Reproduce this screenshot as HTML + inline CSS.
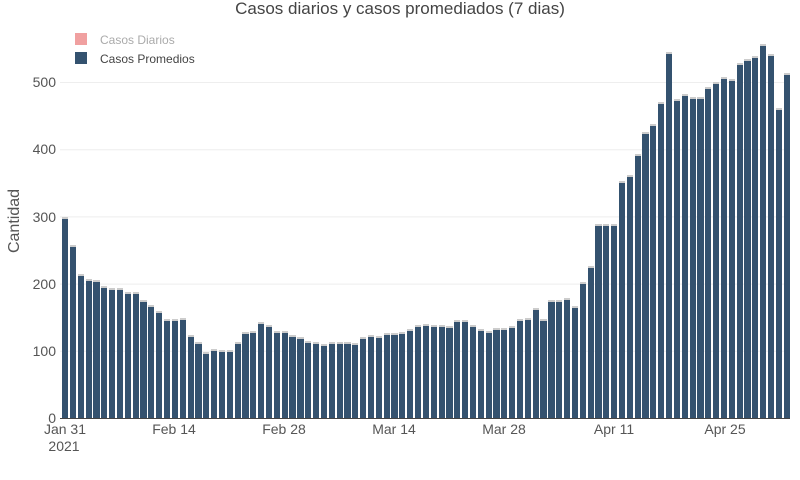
<!DOCTYPE html><html><head><style>body{margin:0;background:#fff}svg{font-family:"Liberation Sans",sans-serif}
#b{position:absolute;left:62px;top:0;height:418px;width:740px;display:flex;align-items:flex-end}
#b i{display:block;width:6.2px;margin-right:1.66px;background:#34526f;border-top:2px solid #ccc;box-sizing:content-box;flex:none}
</style></head><body>
<svg width="800" height="480" xmlns="http://www.w3.org/2000/svg" style="position:absolute;left:0;top:0">
<text x="400" y="14" text-anchor="middle" font-size="17" fill="#444">Casos diarios y casos promediados (7 dias)</text>
<g stroke="#eee" stroke-width="1">
<line x1="60" x2="790" y1="351.3" y2="351.3"/><line x1="60" x2="790" y1="284.1" y2="284.1"/><line x1="60" x2="790" y1="216.9" y2="216.9"/><line x1="60" x2="790" y1="149.7" y2="149.7"/><line x1="60" x2="790" y1="82.5" y2="82.5"/></g>
<g font-size="14" fill="#555" text-anchor="end">
<text x="56" y="423">0</text><text x="56" y="356">100</text><text x="56" y="289">200</text><text x="56" y="222">300</text><text x="56" y="154">400</text><text x="56" y="87">500</text></g>
<text transform="translate(19,221) rotate(-90)" text-anchor="middle" font-size="16" fill="#555">Cantidad</text>
<g font-size="14" fill="#555" text-anchor="middle">
<text x="65" y="434">Jan 31</text><text x="64" y="451">2021</text><text x="174" y="434">Feb 14</text><text x="284" y="434">Feb 28</text><text x="394" y="434">Mar 14</text><text x="504" y="434">Mar 28</text><text x="614" y="434">Apr 11</text><text x="725" y="434">Apr 25</text></g>
<rect x="75" y="33" width="12" height="12" fill="#f0a0a0"/><text x="100" y="44" font-size="12" fill="#aaa">Casos Diarios</text>
<rect x="75" y="52" width="12" height="12" fill="#34526f"/><text x="100" y="63" font-size="12" fill="#444">Casos Promedios</text>
</svg>
<div id="b">
<i style="height:calc(296px*.672)"></i><i style="height:calc(254px*.672)"></i><i style="height:calc(211px*.672)"></i><i style="height:calc(204px*.672)"></i><i style="height:calc(202px*.672)"></i><i style="height:calc(194px*.672)"></i><i style="height:calc(190px*.672)"></i><i style="height:calc(190px*.672)"></i><i style="height:calc(185px*.672)"></i><i style="height:calc(185px*.672)"></i>
<i style="height:calc(173px*.672)"></i><i style="height:calc(165px*.672)"></i><i style="height:calc(157px*.672)"></i><i style="height:calc(145px*.672)"></i><i style="height:calc(145px*.672)"></i><i style="height:calc(146px*.672)"></i><i style="height:calc(120px*.672)"></i><i style="height:calc(110px*.672)"></i><i style="height:calc(95px*.672)"></i><i style="height:calc(99px*.672)"></i>
<i style="height:calc(98px*.672)"></i><i style="height:calc(98px*.672)"></i><i style="height:calc(110px*.672)"></i><i style="height:calc(125px*.672)"></i><i style="height:calc(126px*.672)"></i><i style="height:calc(140px*.672)"></i><i style="height:calc(136px*.672)"></i><i style="height:calc(127px*.672)"></i><i style="height:calc(127px*.672)"></i><i style="height:calc(120px*.672)"></i>
<i style="height:calc(118px*.672)"></i><i style="height:calc(111px*.672)"></i><i style="height:calc(110px*.672)"></i><i style="height:calc(107px*.672)"></i><i style="height:calc(110px*.672)"></i><i style="height:calc(110px*.672)"></i><i style="height:calc(110px*.672)"></i><i style="height:calc(108px*.672)"></i><i style="height:calc(117px*.672)"></i><i style="height:calc(120px*.672)"></i>
<i style="height:calc(119px*.672)"></i><i style="height:calc(123px*.672)"></i><i style="height:calc(124px*.672)"></i><i style="height:calc(125px*.672)"></i><i style="height:calc(130px*.672)"></i><i style="height:calc(136px*.672)"></i><i style="height:calc(137px*.672)"></i><i style="height:calc(136px*.672)"></i><i style="height:calc(135px*.672)"></i><i style="height:calc(134px*.672)"></i>
<i style="height:calc(143px*.672)"></i><i style="height:calc(143px*.672)"></i><i style="height:calc(136px*.672)"></i><i style="height:calc(130px*.672)"></i><i style="height:calc(126px*.672)"></i><i style="height:calc(131px*.672)"></i><i style="height:calc(131px*.672)"></i><i style="height:calc(134px*.672)"></i><i style="height:calc(145px*.672)"></i><i style="height:calc(146px*.672)"></i>
<i style="height:calc(160px*.672)"></i><i style="height:calc(145px*.672)"></i><i style="height:calc(173px*.672)"></i><i style="height:calc(173px*.672)"></i><i style="height:calc(176px*.672)"></i><i style="height:calc(163px*.672)"></i><i style="height:calc(200px*.672)"></i><i style="height:calc(223px*.672)"></i><i style="height:calc(285px*.672)"></i><i style="height:calc(285px*.672)"></i>
<i style="height:calc(285px*.672)"></i><i style="height:calc(350px*.672)"></i><i style="height:calc(358px*.672)"></i><i style="height:calc(390px*.672)"></i><i style="height:calc(422px*.672)"></i><i style="height:calc(435px*.672)"></i><i style="height:calc(468px*.672)"></i><i style="height:calc(542px*.672)"></i><i style="height:calc(472px*.672)"></i><i style="height:calc(479px*.672)"></i>
<i style="height:calc(474px*.672)"></i><i style="height:calc(474px*.672)"></i><i style="height:calc(490px*.672)"></i><i style="height:calc(497px*.672)"></i><i style="height:calc(505px*.672)"></i><i style="height:calc(502px*.672)"></i><i style="height:calc(525px*.672)"></i><i style="height:calc(532px*.672)"></i><i style="height:calc(536px*.672)"></i><i style="height:calc(554px*.672)"></i>
<i style="height:calc(538px*.672)"></i><i style="height:calc(458px*.672)"></i><i style="height:calc(510px*.672)"></i>
</div>
<div style="position:absolute;left:60px;top:418px;width:730px;height:1px;background:#444"></div>
</body></html>
